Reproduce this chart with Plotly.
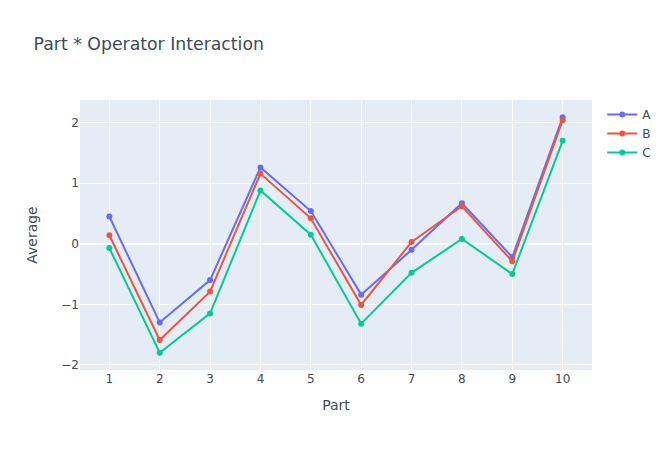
import plotly.graph_objects as go

parts = [1, 2, 3, 4, 5, 6, 7, 8, 9, 10]
avg_a = [0.45, -1.30, -0.60, 1.26, 0.54, -0.84, -0.10, 0.67, -0.22, 2.09]
avg_b = [0.14, -1.59, -0.79, 1.16, 0.42, -1.01, 0.03, 0.62, -0.29, 2.04]
avg_c = [-0.07, -1.80, -1.15, 0.88, 0.15, -1.32, -0.48, 0.08, -0.50, 1.70]
operators = ["A", "B", "C"]

fig = go.Figure()
for name, vals in zip(operators, [avg_a, avg_b, avg_c]):
    fig.add_trace(go.Scatter(x=parts, y=vals, mode="lines+markers", name=name))

fig.update_layout(
    font=dict(family="DejaVu Sans", color="#3d4a5c"),
    title=dict(text="Part * Operator Interaction", font=dict(size=17.3)),
    xaxis=dict(title=dict(text="Part"), tickmode="linear", dtick=1),
    yaxis=dict(title=dict(text="Average", standoff=20)),
    margin=dict(l=80, r=80, t=100, b=80),
    width=672, height=450,
)
fig.write_html("out.html")
